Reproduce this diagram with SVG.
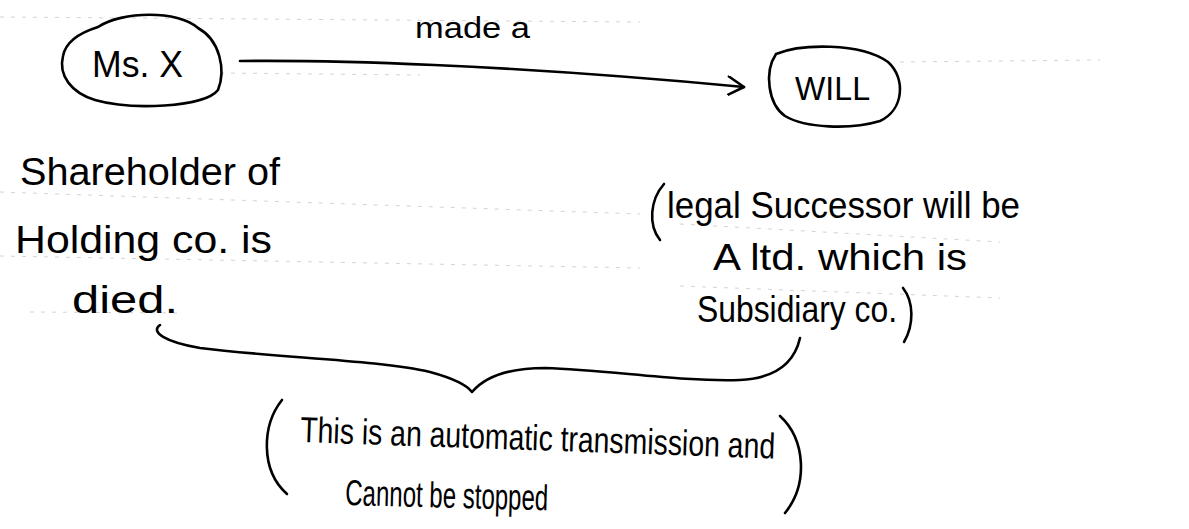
<svg xmlns="http://www.w3.org/2000/svg" width="1189" height="529" viewBox="0 0 1189 529">
  <style>
    .ink { fill: none; stroke: #000; stroke-width: 2.6; stroke-linecap: round; stroke-linejoin: round; }
    .hand { font-family: "Liberation Sans", "DejaVu Sans", sans-serif; fill: #000; }
    .rule { fill: none; stroke: #a8a8a8; stroke-width: 1; stroke-dasharray: 4 7; opacity: 0.5; }
  </style>
  <defs>
    <marker id="chevron" viewBox="0 0 20 20" refX="18" refY="10" markerWidth="20" markerHeight="20" markerUnits="userSpaceOnUse" orient="auto">
      <path d="M 2 1 L 18 10 L 3 19" fill="none" stroke="#000" stroke-width="2.6" stroke-linecap="round" stroke-linejoin="round"/>
    </marker>
  </defs>

  <rect width="1189" height="529" fill="#fff"/>

  <!-- faint notebook rules -->
  <g id="rules">
    <path class="rule" d="M 0 17 L 640 22"/>
    <path class="rule" d="M 220 73 L 420 75"/>
    <path class="rule" d="M 900 62 L 1100 60"/>
    <path class="rule" d="M 0 192 L 640 214"/>
    <path class="rule" d="M 680 224 L 1000 242"/>
    <path class="rule" d="M 0 256 L 640 268"/>
    <path class="rule" d="M 680 286 L 1000 298"/>
    <path class="rule" d="M 30 312 L 180 313"/>
  </g>

  <!-- person node -->
  <g id="node-msx">
    <path class="ink" d="M 98 27 C 122 11, 178 10, 198 28 C 220 40, 226 70, 218 90 C 204 108, 130 110, 95 100 C 72 93, 58 76, 63 56 C 66 40, 82 32, 98 27 Z"/>
    <text class="hand" x="92" y="77" font-size="36" textLength="91" lengthAdjust="spacingAndGlyphs">Ms. X</text>
  </g>

  <!-- document node -->
  <g id="node-will">
    <path class="ink" d="M 776 54 C 800 44, 860 42, 888 62 C 906 78, 904 110, 880 121 C 850 130, 805 128, 785 116 C 768 104, 764 72, 776 54 Z"/>
    <text class="hand" x="795" y="100" font-size="34" textLength="75" lengthAdjust="spacingAndGlyphs">WILL</text>
  </g>

  <!-- left note -->
  <g id="node-shareholder">
    <text class="hand" x="20" y="185" font-size="38" textLength="260" lengthAdjust="spacingAndGlyphs">Shareholder of</text>
    <text class="hand" x="15" y="253" font-size="38" textLength="257" lengthAdjust="spacingAndGlyphs">Holding co. is</text>
    <text class="hand" x="72" y="313" font-size="38" textLength="106" lengthAdjust="spacingAndGlyphs">died.</text>
  </g>

  <!-- right note -->
  <g id="node-successor">
    <path class="ink" d="M 664 184 C 650 200, 648 225, 660 240"/>
    <text class="hand" x="667" y="218" font-size="36" textLength="353" lengthAdjust="spacingAndGlyphs">legal Successor will be</text>
    <text class="hand" x="713" y="270" font-size="36" textLength="254" lengthAdjust="spacingAndGlyphs">A ltd. which is</text>
    <text class="hand" x="697" y="322" font-size="36" textLength="200" lengthAdjust="spacingAndGlyphs">Subsidiary co.</text>
    <path class="ink" d="M 903 288 C 914 302, 914 325, 904 342"/>
  </g>

  <!-- bottom note -->
  <g id="node-transmission">
    <path class="ink" d="M 282 400 C 262 425, 260 470, 287 494"/>
    <text class="hand" x="300" y="442" font-size="36" transform="rotate(2 300 442)" textLength="475" lengthAdjust="spacingAndGlyphs">This is an automatic transmission and</text>
    <text class="hand" x="345" y="505" font-size="36" transform="rotate(1.5 345 505)" textLength="203" lengthAdjust="spacingAndGlyphs">Cannot be stopped</text>
    <path class="ink" d="M 780 416 C 806 440, 808 485, 785 513"/>
  </g>

  <!-- connectors -->
  <g id="connectors">
    <path class="ink" d="M 240 61 C 330 60, 500 64, 744 87" marker-end="url(#chevron)"/>
    <text class="hand" x="415" y="38" font-size="30" textLength="115" lengthAdjust="spacingAndGlyphs">made a</text>
    <path class="ink" d="M 160 325 C 150 332, 165 342, 200 348 C 280 358, 380 360, 430 372 C 452 378, 466 384, 472 392 C 484 378, 505 368, 545 368 C 610 370, 680 382, 740 380 C 780 378, 795 360, 800 338"/>
  </g>
</svg>
